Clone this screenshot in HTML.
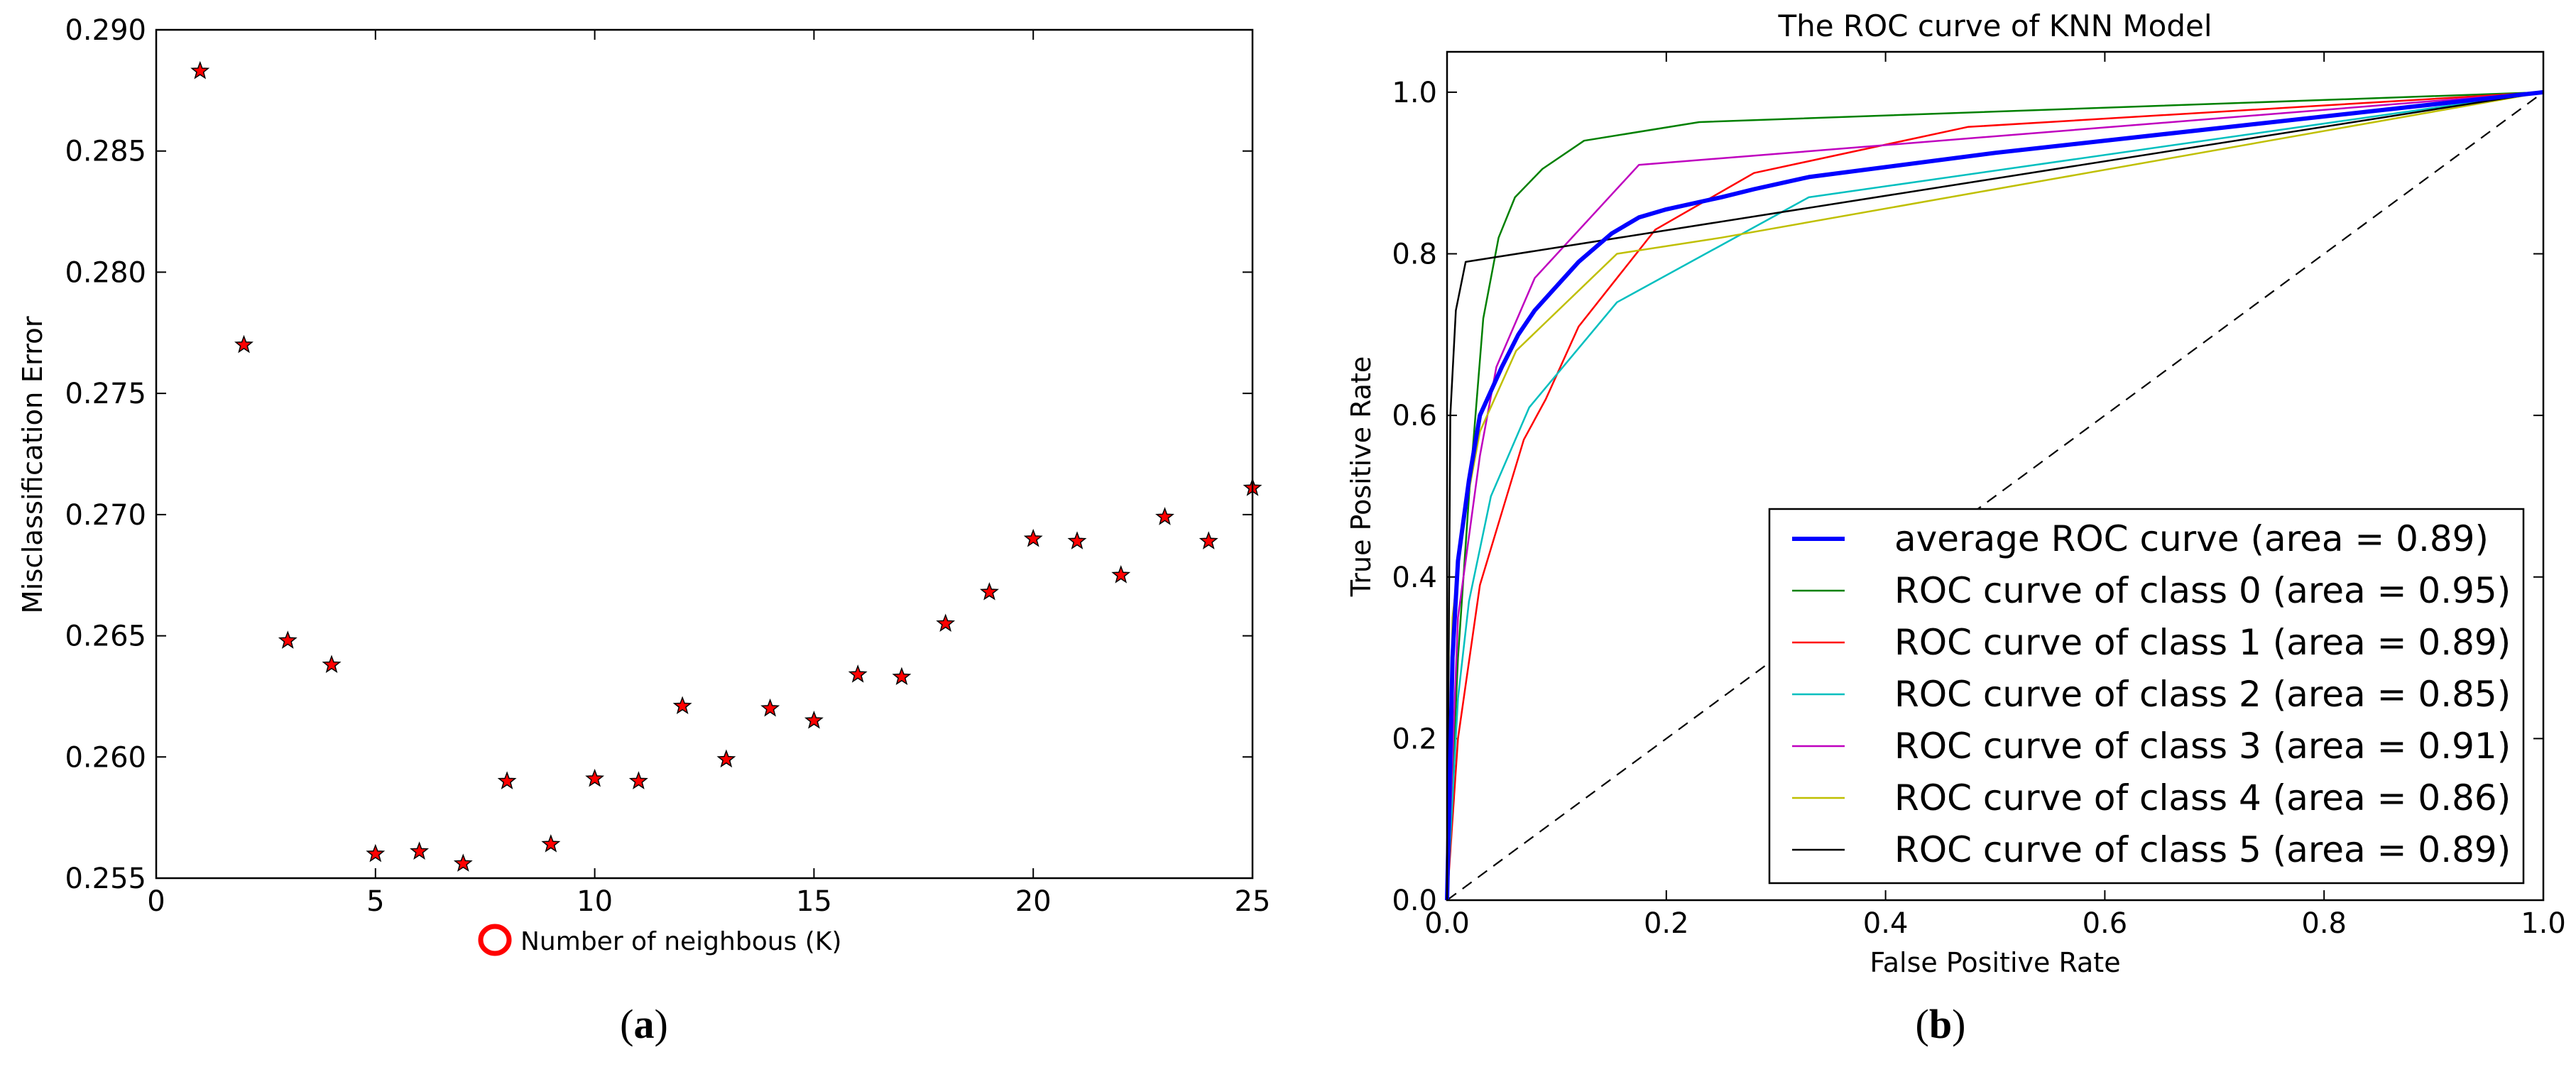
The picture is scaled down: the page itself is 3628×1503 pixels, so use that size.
<!DOCTYPE html>
<html><head><meta charset="utf-8"><style>
html,body{margin:0;padding:0;background:#fff;}
svg{display:block;font-family:"DejaVu Sans","Liberation Sans",sans-serif;}
</style></head><body>
<svg id="fig" width="3628" height="1503" viewBox="0 0 3628 1503" xmlns="http://www.w3.org/2000/svg">
<rect width="3628" height="1503" fill="#fff"/>
<g id="pa"></g>
<g id="pb"></g>
<text x="907" y="1462" font-family="Liberation Serif,serif" font-size="58" text-anchor="middle">(<tspan font-weight="bold">a</tspan>)</text>
<text x="2733" y="1462" font-family="Liberation Serif,serif" font-size="58" text-anchor="middle">(<tspan font-weight="bold">b</tspan>)</text>
</svg>
<script>
const kValues=[1,2,3,4,5,6,7,8,9,10,11,12,13,14,15,16,17,18,19,20,21,22,23,24,25];
const errValues=[0.2883,0.2770,0.2648,0.2638,0.2560,0.2561,0.2556,0.2590,0.2564,0.2591,0.2590,0.2621,0.2599,0.2620,0.2615,0.2634,0.2633,0.2655,0.2668,0.2690,0.2689,0.2675,0.2699,0.2689,0.2711];
const aXTicks=[0,5,10,15,20,25];
const aYTicks=[0.255,0.260,0.265,0.270,0.275,0.280,0.285,0.290];

const rocNames=["average ROC curve (area = 0.89)","ROC curve of class 0 (area = 0.95)","ROC curve of class 1 (area = 0.89)","ROC curve of class 2 (area = 0.85)","ROC curve of class 3 (area = 0.91)","ROC curve of class 4 (area = 0.86)","ROC curve of class 5 (area = 0.89)"];
const rocColors=["#0000ff","#008000","#ff0000","#00bfbf","#bf00bf","#bfbf00","#000000"];
const fprAvg=[0,0.005,0.01,0.02,0.03,0.05,0.065,0.08,0.1,0.12,0.15,0.175,0.2,0.25,0.28,0.33,0.5,0.7,1];
const tprAvg=[0,0.3,0.42,0.52,0.6,0.66,0.7,0.73,0.76,0.79,0.825,0.845,0.855,0.87,0.88,0.895,0.925,0.955,1];
const fpr0=[0,0.01,0.02,0.033,0.047,0.062,0.087,0.125,0.23,1];
const tpr0=[0,0.3,0.5,0.72,0.82,0.87,0.905,0.94,0.963,1];
const fpr1=[0,0.01,0.03,0.05,0.07,0.09,0.12,0.155,0.19,0.28,0.475,1];
const tpr1=[0,0.2,0.39,0.48,0.57,0.62,0.71,0.77,0.83,0.9,0.957,1];
const fpr2=[0,0.01,0.02,0.04,0.075,0.155,0.33,1];
const tpr2=[0,0.25,0.37,0.5,0.61,0.74,0.87,1];
const fpr3=[0,0.01,0.03,0.045,0.08,0.175,1];
const tpr3=[0,0.35,0.55,0.66,0.77,0.91,1];
const fpr4=[0,0.005,0.015,0.03,0.063,0.155,0.25,1];
const tpr4=[0,0.35,0.47,0.58,0.68,0.8,0.82,1];
const fpr5=[0,0.003,0.008,0.017,1];
const tpr5=[0,0.6,0.73,0.79,1];
const bTicks=[0,0.2,0.4,0.6,0.8,1.0];

const NS="http://www.w3.org/2000/svg";
function mk(parent,tag,attrs,txt){const e=document.createElementNS(NS,tag);for(const k in attrs)e.setAttribute(k,attrs[k]);if(txt!==undefined)e.textContent=txt;parent.appendChild(e);return e;}

// Panel A
const pa=document.getElementById('pa');
const aL=220,aR=1764,aT=42,aB=1237;
const ax=v=>aL+(v-0)/(25-0)*(aR-aL);
const ay=v=>aB-(v-0.255)/(0.290-0.255)*(aB-aT);
aXTicks.forEach(t=>{
  const x=ax(t);
  let l=mk(pa,'path',{d:`M${x},${aB}v-14M${x},${aT}v14`,stroke:'#000','stroke-width':2});
  
  
  let tx=mk(pa,'text',{x:x,y:aB+46,'font-size':40,'text-anchor':'middle'},String(t));
  
  
});
aYTicks.forEach(t=>{
  const y=ay(t);
  let l=mk(pa,'path',{d:`M${aL},${y}h14M${aR},${y}h-14`,stroke:'#000','stroke-width':2});
  
  
  let tx=mk(pa,'text',{x:aL-14,y:y+14,'font-size':40,'text-anchor':'end'},t.toFixed(3));
  
  
});
function star(cx,cy,r){let p=[];for(let i=0;i<10;i++){const a=-Math.PI/2+i*Math.PI/5;const rr=i%2?r*0.42:r;p.push((cx+rr*Math.cos(a)).toFixed(1)+','+(cy+rr*Math.sin(a)).toFixed(1));}return p.join(' ');}
kValues.forEach((k,i)=>{
  const s=mk(pa,'polygon',{points:star(ax(k),ay(errValues[i]),12),fill:'#ff0000',stroke:'#000','stroke-width':1.5});
  
  
});
let fa=mk(pa,'rect',{x:aL,y:aT,width:aR-aL,height:aB-aT,fill:'none',stroke:'#000','stroke-width':2.5});


let yla=mk(pa,'text',{x:0,y:0,'font-size':38.5,'text-anchor':'middle',transform:`translate(59,655) rotate(-90)`},'Misclassification Error');


let circ=mk(pa,'ellipse',{cx:697,cy:1324,rx:20,ry:19,fill:'none',stroke:'#ff0000','stroke-width':7});


let xla=mk(pa,'text',{x:733,y:1338,'font-size':36},'Number of neighbous (K)');



// Panel B
const pb=document.getElementById('pb');
const bL=2038,bR=3582,bT=73,bB=1268;
const bx=v=>bL+v*(bR-bL);
const by=v=>bB-v/1.05*(bB-bT);
bTicks.forEach(t=>{
  const x=bx(t),y=by(t);
  let l=mk(pb,'path',{d:`M${x},${bB}v-14M${x},${bT}v14M${bL},${y}h14M${bR},${y}h-14`,stroke:'#000','stroke-width':2});
  
  
  let tx=mk(pb,'text',{x:x,y:bB+46,'font-size':40,'text-anchor':'middle'},t.toFixed(1));
  
  
  let ty=mk(pb,'text',{x:bL-14,y:y+14,'font-size':40,'text-anchor':'end'},t.toFixed(1));
  
  
});
let diag=mk(pb,'line',{x1:bx(0),y1:by(0),x2:bx(1),y2:by(1),stroke:'#000','stroke-width':2.2,'stroke-dasharray':'16,11'});


const series=[[fprAvg,tprAvg],[fpr0,tpr0],[fpr1,tpr1],[fpr2,tpr2],[fpr3,tpr3],[fpr4,tpr4],[fpr5,tpr5]];
const order=[1,2,3,4,5,6,0];
order.forEach(i=>{
  const [xs,ys]=series[i];
  const d=xs.map((v,j)=>(j?'L':'M')+bx(v).toFixed(1)+','+by(ys[j]).toFixed(1)).join('');
  const p=mk(pb,'path',{d:d,fill:'none',stroke:rocColors[i],'stroke-width':i===0?6:2.5,'stroke-linejoin':'round'});
  
  
});
let fb=mk(pb,'rect',{x:bL,y:bT,width:bR-bL,height:bB-bT,fill:'none',stroke:'#000','stroke-width':2.5});


let lg=mk(pb,'g',{});


mk(lg,'rect',{x:2492,y:717,width:1062,height:527,fill:'#fff',stroke:'#000','stroke-width':2.5});
rocNames.forEach((n,i)=>{
  const y=759+i*73;
  const e=mk(lg,'g',{});
  
  
  mk(e,'line',{x1:2524,x2:2598,y1:y,y2:y,stroke:rocColors[i],'stroke-width':i===0?6:2.5});
  mk(e,'text',{x:2668,y:y+17,'font-size':50},n);
});
let tt=mk(pb,'text',{x:2810,y:51,'font-size':42,'text-anchor':'middle'},'The ROC curve of KNN Model');


let ylb=mk(pb,'text',{x:0,y:0,'font-size':38,'text-anchor':'middle',transform:`translate(1930,671) rotate(-90)`},'True Positive Rate');


let xlb=mk(pb,'text',{x:2810,y:1369,'font-size':38,'text-anchor':'middle'},'False Positive Rate');


</script>
</body></html>
